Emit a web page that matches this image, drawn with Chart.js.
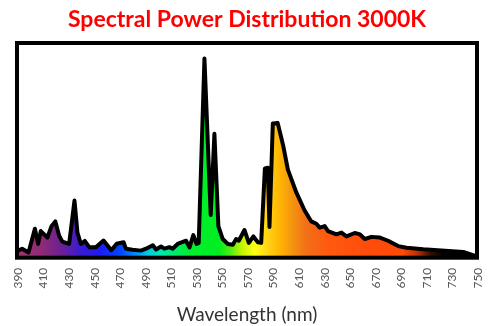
<!DOCTYPE html>
<html>
<head>
<meta charset="utf-8">
<script src="https://cdn.jsdelivr.net/npm/chart.js@4.4.1/dist/chart.umd.min.js"></script>
<style>
  html, body { margin: 0; padding: 0; background: #fff; }
  #wrap { width: 495px; height: 326px; }
</style>
</head>
<body>
<div id="wrap"><canvas id="spdChart" width="495" height="326"></canvas></div>
<script>
// bước sóng (nm) và công suất tương đối
const wavelengths = [390, 394, 399, 404, 406.5, 408.6, 413.8, 417, 420, 423, 425.5, 430.8, 435, 437.3, 440, 443, 446.5, 451.7, 457.7, 463.8, 468, 471.5, 473.4, 475.2, 480.4, 487, 491, 496.3, 498.8, 502.7, 505.3, 509.2, 511.8, 515.7, 522.3, 525, 528, 530.6, 532.2, 536.7, 541.6, 544.5, 547.6, 551, 555, 558.9, 561.5, 563.6, 568, 571.4, 575, 578.5, 581.1, 584, 586.3, 587.6, 590.2, 594, 598.4, 602, 608.6, 615, 620.3, 624.3, 626.9, 630.8, 633.4, 640, 643.9, 647.8, 654.3, 658, 662.2, 667.4, 674, 680.4, 688.3, 694.9, 707.9, 739.3, 748.5];
const power = [3.0, 4.2, 2.4, 13.5, 6.4, 12.4, 9.4, 14.7, 16.9, 10.2, 7.5, 6.4, 26.6, 11.7, 6.4, 7.8, 4.9, 4.9, 8.0, 3.5, 6.5, 7.0, 7.2, 4.2, 3.7, 3.3, 4.2, 5.8, 3.8, 5.2, 4.2, 4.9, 4.2, 6.4, 7.9, 4.8, 10.5, 6.4, 6.9, 92.8, 19.9, 57.7, 14.7, 8.7, 6.4, 6.0, 8.7, 7.9, 12.9, 6.9, 9.9, 7.2, 6.9, 41.6, 41.9, 14.3, 62.5, 62.8, 52, 41, 30.4, 22.1, 16.9, 15.8, 14, 14.7, 12.4, 10.9, 11.7, 9.9, 11.5, 11, 8.7, 9.7, 9.4, 7.9, 5.4, 4.6, 3.9, 2.7, 0.8];
const tickLabels = [390, 410, 430, 450, 470, 490, 510, 530, 550, 570, 590, 610, 630, 650, 670, 690, 710, 730, 750];

// màu phổ theo bước sóng
const spectrumNm = [390, 410, 425, 440, 455, 470, 482, 492, 502, 512, 525, 548, 557, 566, 576, 586, 596, 606, 616, 632, 665, 692, 703, 714, 724];
const spectrumColors = ['#a8346e', '#8c2a78', '#6a2192', '#3a1ad2', '#1c1cf2', '#0044ff', '#0088ff', '#00c8e4', '#00e8b4', '#00e874', '#00ee30', '#00ee20', '#50ee10', '#c4f200', '#ffff14', '#ffd414', '#ffb404', '#f49210', '#f27018', '#ff5a10', '#ff4c0a', '#ff4a08', '#c03008', '#301000', '#000000'];

const points = wavelengths.map((w, i) => ({ x: w, y: power[i] }));

function spectrumFill(context) {
  const chart = context.chart;
  if (!chart.chartArea) return null;
  const xs = chart.scales.x;
  const x0 = xs.getPixelForValue(390);
  const x1 = xs.getPixelForValue(750);
  const g = chart.ctx.createLinearGradient(x0, 0, x1, 0);
  spectrumNm.forEach((nm, i) => g.addColorStop((nm - 390) / 360, spectrumColors[i]));
  return g;
}

// khung đen dày + nhãn trục x xoay dọc
const framePlugin = {
  id: 'frame',
  afterDatasetsDraw(chart) {
    const { ctx, chartArea: a } = chart;
    ctx.save();
    ctx.strokeStyle = '#000';
    ctx.lineWidth = 4;
    ctx.strokeRect(a.left, a.top, a.right - a.left, a.bottom - a.top);
    ctx.fillStyle = '#555';
    ctx.font = '12px Lato';
    ctx.textAlign = 'right';
    ctx.textBaseline = 'middle';
    tickLabels.forEach(t => {
      const x = chart.scales.x.getPixelForValue(t);
      ctx.save();
      ctx.translate(x + 1, a.bottom + 10);
      ctx.rotate(-Math.PI / 2);
      ctx.fillText(String(t), 0, 0);
      ctx.restore();
    });
    ctx.restore();
  }
};

new Chart(document.getElementById('spdChart').getContext('2d'), {
  type: 'line',
  data: {
    datasets: [{
      data: points,
      borderColor: '#000',
      borderWidth: 4,
      borderJoinStyle: 'round',
      borderCapStyle: 'round',
      backgroundColor: spectrumFill,
      fill: 'origin',
      pointRadius: 0,
      tension: 0
    }]
  },
  options: {
    responsive: false,
    animation: false,
    layout: { padding: { left: 17, right: 18, top: 0, bottom: 0 } },
    plugins: {
      legend: { display: false },
      tooltip: { enabled: false },
      title: {
        display: true,
        text: 'Spectral Power Distribution 3000K',
        color: '#ff0000',
        font: { family: 'Lato', size: 23, weight: 'bold', lineHeight: 1.2 },
        padding: { top: 6, bottom: 9.4 }
      }
    },
    scales: {
      x: {
        type: 'linear',
        min: 390,
        max: 750,
        grid: { display: false },
        border: { display: false },
        ticks: { display: false },
        title: {
          display: true,
          text: 'Wavelength (nm)',
          color: '#333',
          font: { family: 'Lato', size: 19, lineHeight: 1.2 },
          padding: { top: 37.5, bottom: 0 }
        }
      },
      y: {
        display: false,
        min: 0,
        max: 100
      }
    }
  },
  plugins: [framePlugin]
});
</script>
</body>
</html>
